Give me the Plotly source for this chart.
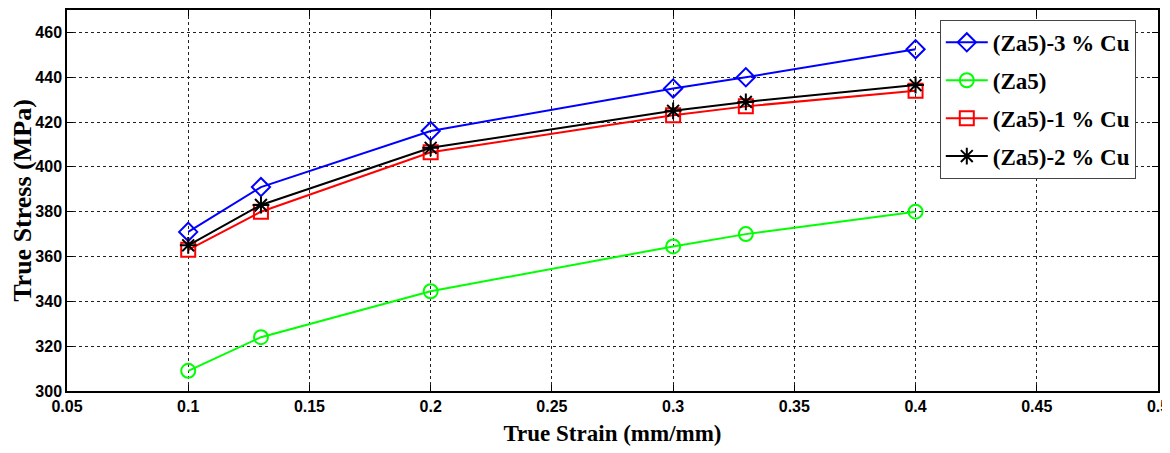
import plotly.graph_objects as go

strain = [0.1, 0.13, 0.2, 0.3, 0.33, 0.4]
cu3 = [371, 391, 416, 435, 440, 452.5]
za5 = [309, 324, 344.5, 364.5, 370, 380]
cu1 = [363, 380, 406.5, 423, 427, 434]
cu2 = [365, 383, 408.5, 425, 429, 436.5]

x_ticks = [0.05, 0.1, 0.15, 0.2, 0.25, 0.3, 0.35, 0.4, 0.45, 0.5]
x_ticktext = ["0.05", "0.1", "0.15", "0.2", "0.25", "0.3", "0.35", "0.4", "0.45", "0.5"]
y_ticks = [300, 320, 340, 360, 380, 400, 420, 440, 460]

series = [
    ("(Za5)-3 % Cu", cu3, "#0000ff", "diamond-open"),
    ("(Za5)", za5, "#00ff00", "circle-open"),
    ("(Za5)-1 % Cu", cu1, "#ff0000", "square-open"),
    ("(Za5)-2 % Cu", cu2, "#000000", "asterisk-open"),
]

fig = go.Figure()
for i, (name, vals, col, sym) in enumerate(series):
    fig.add_trace(go.Scatter(
        x=strain, y=vals, name=name, mode="lines+markers",
        legendgroup="g%d" % i,
        line=dict(color=col, width=2),
        marker=dict(symbol=sym, size=14, color=col, line=dict(color=col, width=2)),
    ))

tickfont = dict(family="Liberation Sans, Arial, sans-serif",
                size=16, color="black", weight="bold")
axis_common = dict(
    showline=True, linecolor="black", linewidth=1.5, mirror="ticks",
    ticks="inside", ticklen=6, tickcolor="black",
    showgrid=True, gridcolor="#222222", griddash="dot", gridwidth=1,
    zeroline=False, tickfont=tickfont, automargin=False,
)
serif = "Liberation Serif, Times New Roman, serif"

fig.update_layout(
    width=1162, height=445,
    margin=dict(l=59, r=12, t=2, b=62),
    paper_bgcolor="white", plot_bgcolor="white",
    xaxis=dict(range=[0.05, 0.5], tickvals=x_ticks, ticktext=x_ticktext,
               title=dict(text="True Strain (mm/mm)", standoff=11,
                          font=dict(family=serif, size=23, color="black", weight="bold")),
               **axis_common),
    yaxis=dict(range=[300, 470], tickvals=y_ticks,
               title=dict(text="True Stress (MPa)", standoff=7,
                          font=dict(family=serif, size=26, color="black", weight="bold")),
               **axis_common),
    legend=dict(
        x=0.80, y=0.974, xanchor="left", yanchor="top",
        bgcolor="white", bordercolor="#444444", borderwidth=1,
        font=dict(family=serif, size=23, color="black", weight="bold"),
        tracegroupgap=5, itemwidth=42,
    ),
    showlegend=True,
)

fig.write_html("out.html")
